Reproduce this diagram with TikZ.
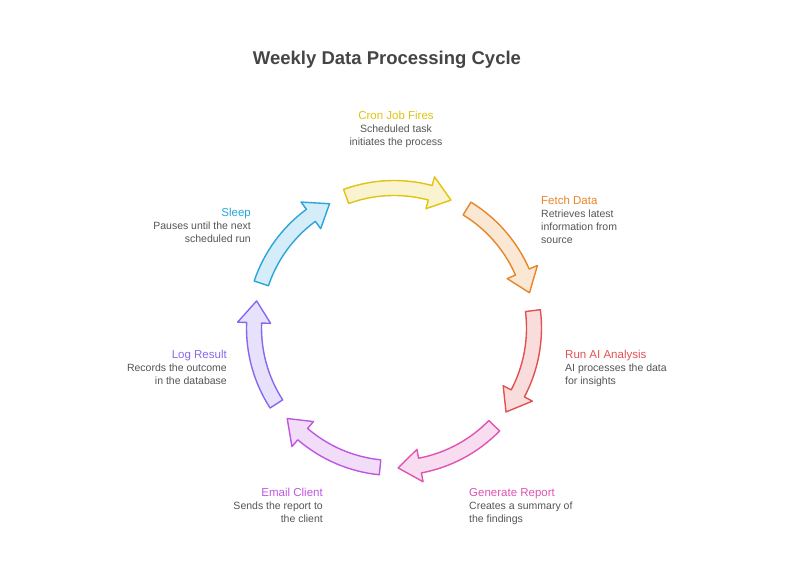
\documentclass[tikz,border=0pt]{standalone}
\usepackage{fontspec}
\setmainfont{Liberation Sans}
\usetikzlibrary{positioning, calc}

\definecolor{titlec}{HTML}{454545}
\definecolor{textc}{HTML}{555555}
\definecolor{cronc}{HTML}{E2C30F}
\definecolor{fetchc}{HTML}{E8862A}
\definecolor{aic}{HTML}{E35252}
\definecolor{reportc}{HTML}{DE55B4}
\definecolor{emailc}{HTML}{BE57E2}
\definecolor{logc}{HTML}{8A68EE}
\definecolor{sleepc}{HTML}{2AA6DA}

\newcommand\headfont{\fontsize{11.5}{13}\selectfont}

\begin{document}
\begin{tikzpicture}[x=1pt, y=1pt,
        steplabel/.style={inner sep=0pt, text=textc, font=\fontsize{10.5}{13}\selectfont},
        cyclearrow/.style={line width=1.4pt, line join=round}]
        \useasboundingbox[fill=white] (0,0) rectangle (792,570);

        % Title
        \node[font=\fontsize{18.5}{22}\selectfont\bfseries, text=titlec] (title) at (387,510) {Weekly Data Processing Cycle};

        % Arrows of the cycle
        \coordinate (c) at (394,242);
        \begin{scope}[shift={(c)}]
        \foreach \col [count=\k from 0] in {cronc,fetchc,aic,reportc,emailc,logc,sleepc}{
            \pgfmathsetmacro\ta{110-51.43*\k}
            \pgfmathsetmacro\tb{\ta-35}
            \pgfmathsetmacro\tp{\ta-44}
            \draw[cyclearrow, draw=\col, fill=\col!20]
                (\ta:147.5) arc[start angle=\ta, end angle=\tb, radius=147.5]
                -- (\tb:156.5) -- (\tp:140) -- (\tb:123.5) -- (\tb:132.5)
                arc[start angle=\tb, end angle=\ta, radius=132.5] -- cycle;
        }
        \end{scope}

        % Labels
        \node[steplabel, anchor=north, align=center] (cron) at (396,459.5)
            {\textcolor{cronc}{\headfont Cron Job Fires}\\Scheduled task\\initiates the process};
        \node[steplabel, anchor=north west, align=left] (fetch) at (541,374)
            {\textcolor{fetchc}{\headfont Fetch Data}\\Retrieves latest\\information from\\source};
        \node[steplabel, anchor=north west, align=left] (ai) at (565,220)
            {\textcolor{aic}{\headfont Run AI Analysis}\\AI processes the data\\for insights};
        \node[steplabel, anchor=north west, align=left] (report) at (469,81.5)
            {\textcolor{reportc}{\headfont Generate Report}\\Creates a summary of\\the findings};
        \node[steplabel, anchor=north east, align=right] (email) at (323,82)
            {\textcolor{emailc}{\headfont Email Client}\\Sends the report to\\the client};
        \node[steplabel, anchor=north east, align=right] (log) at (227,220)
            {\textcolor{logc}{\headfont Log Result}\\Records the outcome\\in the database};
        \node[steplabel, anchor=north east, align=right] (sleep) at (251,362)
            {\textcolor{sleepc}{\headfont Sleep}\\Pauses until the next\\scheduled run};
\end{tikzpicture}
\end{document}
